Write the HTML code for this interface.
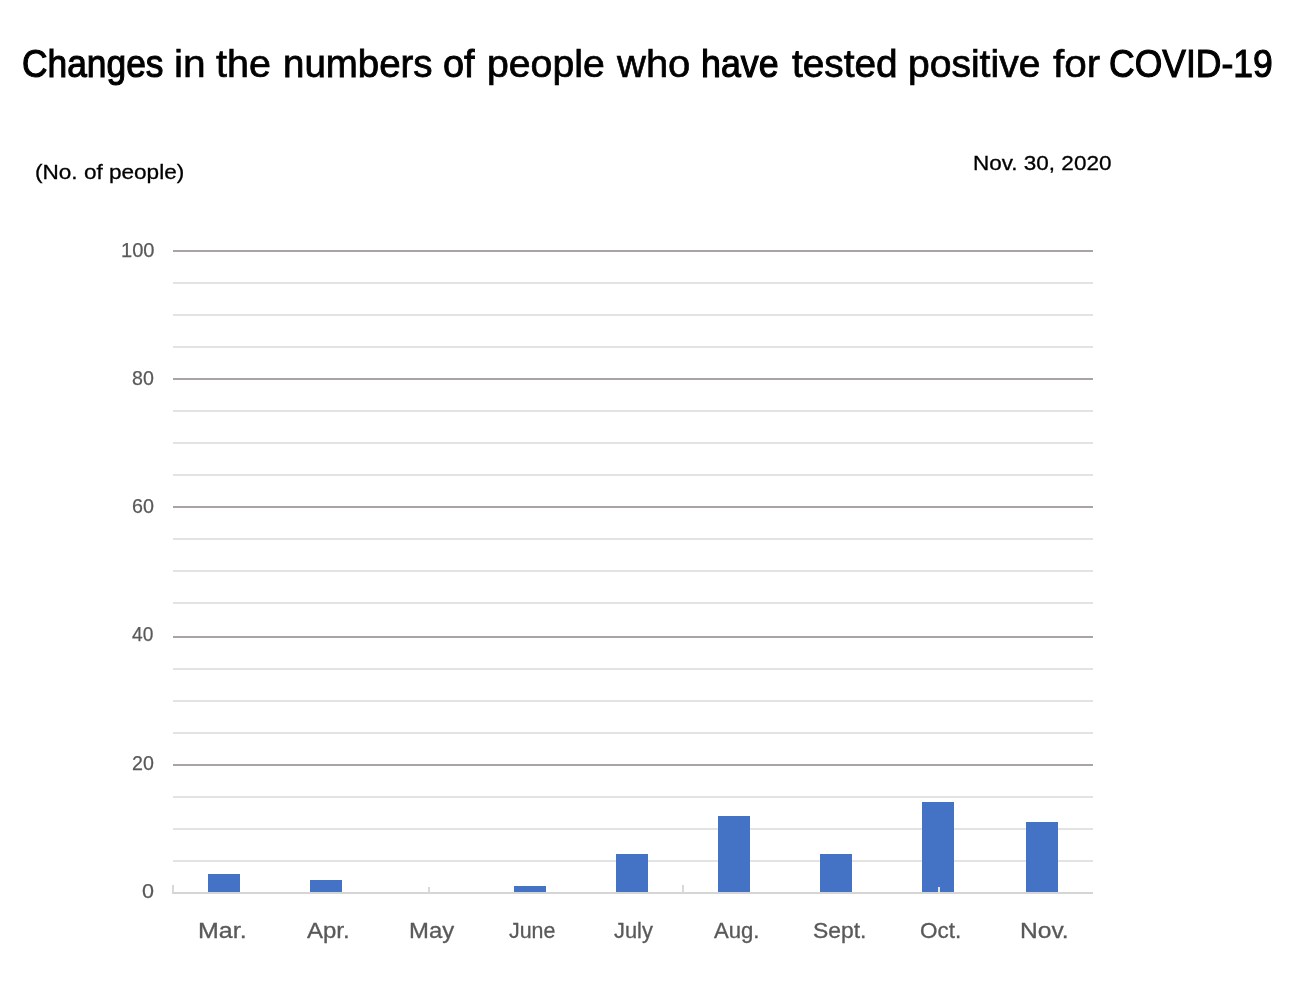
<!DOCTYPE html><html><head><meta charset="utf-8"><title>Changes in the numbers of people who have tested positive for COVID-19</title>
<style>html,body{margin:0;padding:0;background:#fff}body{width:1300px;height:1008px;position:relative;overflow:hidden;font-family:"Liberation Sans",sans-serif}.t{position:absolute;white-space:pre;line-height:1;transform-origin:0 0;margin:0}svg{position:absolute;left:0;top:0}</style></head><body>
<svg width="1300" height="1008" viewBox="0 0 1300 1008" shape-rendering="crispEdges"><rect x="173" y="250" width="920" height="2" fill="#a9a4a3"/><rect x="173" y="282" width="920" height="2" fill="#e3e3e3"/><rect x="173" y="314" width="920" height="2" fill="#e3e3e3"/><rect x="173" y="346" width="920" height="2" fill="#e3e3e3"/><rect x="173" y="378" width="920" height="2" fill="#a9a4a3"/><rect x="173" y="410" width="920" height="2" fill="#e3e3e3"/><rect x="173" y="442" width="920" height="2" fill="#e3e3e3"/><rect x="173" y="474" width="920" height="2" fill="#e3e3e3"/><rect x="173" y="506" width="920" height="2" fill="#a9a4a3"/><rect x="173" y="538" width="920" height="2" fill="#e3e3e3"/><rect x="173" y="570" width="920" height="2" fill="#e3e3e3"/><rect x="173" y="602" width="920" height="2" fill="#e3e3e3"/><rect x="173" y="636" width="920" height="2" fill="#a9a4a3"/><rect x="173" y="668" width="920" height="2" fill="#e3e3e3"/><rect x="173" y="700" width="920" height="2" fill="#e3e3e3"/><rect x="173" y="732" width="920" height="2" fill="#e3e3e3"/><rect x="173" y="764" width="920" height="2" fill="#a9a4a3"/><rect x="173" y="796" width="920" height="2" fill="#e3e3e3"/><rect x="173" y="828" width="920" height="2" fill="#e3e3e3"/><rect x="173" y="860" width="920" height="2" fill="#e3e3e3"/><rect x="172" y="892" width="921" height="2" fill="#d5d5d5"/><rect x="172" y="885" width="2" height="8" fill="#d9d9d9"/><rect x="428" y="887" width="2" height="6" fill="#d9d9d9"/><rect x="682" y="885" width="2" height="8" fill="#d9d9d9"/></svg>
<svg width="1300" height="1008" viewBox="0 0 1300 1008"><rect x="208" y="874" width="32" height="18" fill="#4472c4"/><rect x="310" y="880" width="32" height="12" fill="#4472c4"/><rect x="514" y="886" width="32" height="6" fill="#4472c4"/><rect x="616" y="854" width="32" height="38" fill="#4472c4"/><rect x="718" y="816" width="32" height="76" fill="#4472c4"/><rect x="820" y="854" width="32" height="38" fill="#4472c4"/><rect x="922" y="802" width="32" height="90" fill="#4472c4"/><rect x="1026" y="822" width="32" height="70" fill="#4472c4"/><rect x="938" y="887" width="2" height="6" fill="#e3e3e3"/></svg>
<div class="t" id="t0" style="left:21.97px;top:44.61px;font-size:38.5px;color:#000;-webkit-text-stroke:1.1px #000;transform:scaleX(0.9182)">Changes</div>
<div class="t" id="t1" style="left:173.78px;top:44.61px;font-size:38.5px;color:#000;-webkit-text-stroke:0.55px #000;transform:scaleX(1.0597)">in</div>
<div class="t" id="t2" style="left:216.08px;top:44.61px;font-size:38.5px;color:#000;-webkit-text-stroke:0.69px #000;transform:scaleX(1.0251)">the</div>
<div class="t" id="t3" style="left:282.50px;top:44.61px;font-size:38.5px;color:#000;-webkit-text-stroke:0.8px #000;transform:scaleX(0.9986)">numbers</div>
<div class="t" id="t4" style="left:443.10px;top:44.61px;font-size:38.5px;color:#000;-webkit-text-stroke:0.86px #000;transform:scaleX(0.9843)">of</div>
<div class="t" id="t5" style="left:486.88px;top:44.61px;font-size:38.5px;color:#000;-webkit-text-stroke:0.71px #000;transform:scaleX(1.0182)">people</div>
<div class="t" id="t6" style="left:617.23px;top:44.61px;font-size:38.5px;color:#000;-webkit-text-stroke:0.63px #000;transform:scaleX(1.0386)">who</div>
<div class="t" id="t7" style="left:701.12px;top:44.61px;font-size:38.5px;color:#000;-webkit-text-stroke:1.1px #000;transform:scaleX(0.9295)">have</div>
<div class="t" id="t8" style="left:792.25px;top:44.61px;font-size:38.5px;color:#000;-webkit-text-stroke:0.76px #000;transform:scaleX(1.0075)">tested</div>
<div class="t" id="t9" style="left:907.98px;top:44.61px;font-size:38.5px;color:#000;-webkit-text-stroke:0.73px #000;transform:scaleX(1.0141)">positive</div>
<div class="t" id="t10" style="left:1052.88px;top:44.61px;font-size:38.5px;color:#000;-webkit-text-stroke:0.58px #000;transform:scaleX(1.0512)">for</div>
<div class="t" id="t11" style="left:1108.91px;top:44.61px;font-size:38.5px;color:#000;-webkit-text-stroke:1.1px #000;transform:scaleX(0.9218)">COVID-19</div>
<div class="t" id="ylab" style="left:35.19px;top:161.73px;font-size:20.4px;color:#000;-webkit-text-stroke:0.3px #000;transform:scaleX(1.1062)">(No. of people)</div>
<div class="t" id="date" style="left:972.92px;top:152.63px;font-size:20.4px;color:#000;-webkit-text-stroke:0.3px #000;transform:scaleX(1.1034)">Nov. 30, 2020</div>
<div class="t" id="x0" style="left:198.05px;top:920.45px;font-size:21.2px;color:#595959;-webkit-text-stroke:0.3px #595959;transform:scaleX(1.1795)">Mar.</div>
<div class="t" id="x1" style="left:307.41px;top:920.45px;font-size:21.2px;color:#595959;-webkit-text-stroke:0.3px #595959;transform:scaleX(1.1315)">Apr.</div>
<div class="t" id="x2" style="left:409.13px;top:920.45px;font-size:21.2px;color:#595959;-webkit-text-stroke:0.3px #595959;transform:scaleX(1.1277)">May</div>
<div class="t" id="x3" style="left:508.58px;top:920.45px;font-size:21.2px;color:#595959;-webkit-text-stroke:0.3px #595959;transform:scaleX(1.0102)">June</div>
<div class="t" id="x4" style="left:614.09px;top:920.45px;font-size:21.2px;color:#595959;-webkit-text-stroke:0.3px #595959;transform:scaleX(1.0296)">July</div>
<div class="t" id="x5" style="left:713.98px;top:920.45px;font-size:21.2px;color:#595959;-webkit-text-stroke:0.3px #595959;transform:scaleX(1.0431)">Aug.</div>
<div class="t" id="x6" style="left:813.33px;top:920.45px;font-size:21.2px;color:#595959;-webkit-text-stroke:0.3px #595959;transform:scaleX(1.0801)">Sept.</div>
<div class="t" id="x7" style="left:920.27px;top:920.45px;font-size:21.2px;color:#595959;-webkit-text-stroke:0.3px #595959;transform:scaleX(1.0600)">Oct.</div>
<div class="t" id="x8" style="left:1019.96px;top:920.45px;font-size:21.2px;color:#595959;-webkit-text-stroke:0.3px #595959;transform:scaleX(1.1587)">Nov.</div>
<div class="t" id="y0" style="left:120.69px;top:239.88px;font-size:20.7px;color:#595959;-webkit-text-stroke:0.25px #595959;transform:scaleX(0.9704)">100</div>
<div class="t" id="y1" style="left:131.67px;top:367.88px;font-size:20.7px;color:#595959;-webkit-text-stroke:0.25px #595959;transform:scaleX(0.9485)">80</div>
<div class="t" id="y2" style="left:131.55px;top:495.88px;font-size:20.7px;color:#595959;-webkit-text-stroke:0.25px #595959;transform:scaleX(0.9532)">60</div>
<div class="t" id="y3" style="left:131.87px;top:623.88px;font-size:20.7px;color:#595959;-webkit-text-stroke:0.25px #595959;transform:scaleX(0.9240)">40</div>
<div class="t" id="y4" style="left:132.01px;top:752.88px;font-size:20.7px;color:#595959;-webkit-text-stroke:0.25px #595959;transform:scaleX(0.9486)">20</div>
<div class="t" id="y5" style="left:142.44px;top:880.88px;font-size:20.7px;color:#595959;-webkit-text-stroke:0.25px #595959;transform:scaleX(1.0396)">0</div>
</body></html>
